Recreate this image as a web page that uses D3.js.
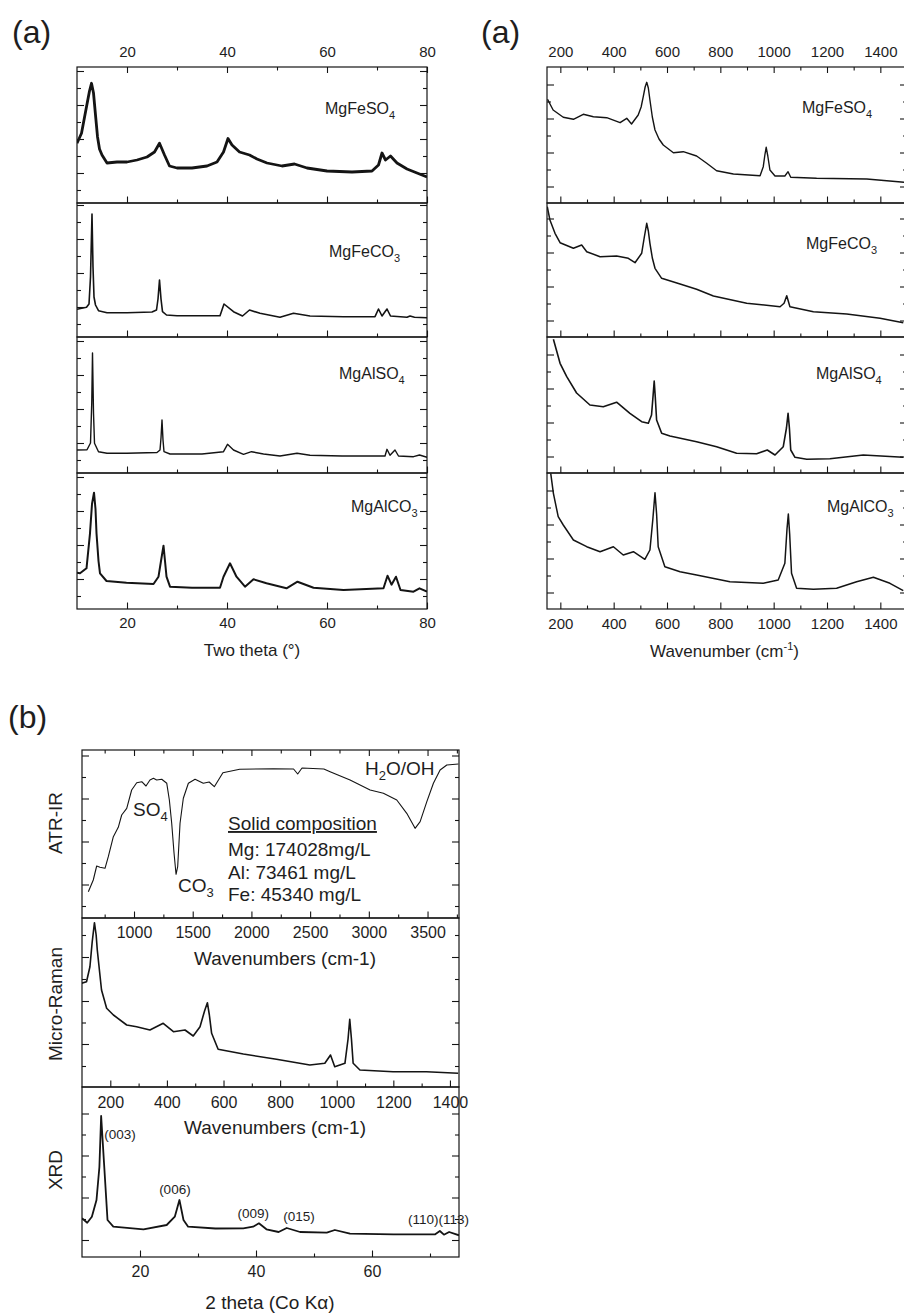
<!DOCTYPE html>
<html>
<head>
<meta charset="utf-8">
<script src="https://cdn.jsdelivr.net/npm/d3@7"></script>
<style>
  body { margin: 0; background: #fff; }
  svg { font-family: "Liberation Sans", Arial, sans-serif; }
  text { fill: #1e1e1e; }
</style>
</head>
<body>
<svg id="fig" width="904" height="1315"></svg>
<script>
'use strict';

// ---- data: [x, intensity (a.u.)] ----
// (a) XRD, two theta
const xrdMgFeSO4 = [[10,597],[10.9,697],[11.9,963],[12.5,1120],[12.9,1197],[13.3,1100],[13.7,880],[14.1,663],[14.5,540],[15,480],[16,400],[18,410],[20,410],[22,430],[24,460],[25.5,510],[26.5,597],[27.5,480],[28.5,370],[30,350],[33,350],[36,370],[38,410],[39.3,510],[40.2,645],[41,580],[42.5,510],[44.5,480],[46,440],[48,400],[51,370],[53.5,390],[56,350],[60,320],[65,310],[69,320],[70.3,380],[71,500],[71.7,430],[72.7,470],[74,400],[76,340],[78,300],[80,260]];
const xrdMgFeCO3 = [[10,277],[11.9,297],[12.4,330],[12.7,600],[13.0,1230],[13.2,700],[13.4,400],[13.7,320],[14.3,263],[16,243],[20,243],[25,250],[25.9,270],[26.2,380],[26.5,570],[26.8,380],[27.1,253],[27.9,220],[30,213],[35,213],[38.6,213],[39.4,330],[41.3,253],[43.1,210],[44.5,270],[46.6,237],[50.6,197],[53.3,237],[56.6,210],[63.3,203],[69.6,203],[70.3,280],[71,210],[72,280],[72.7,210],[76,197],[76.6,210],[77.5,197],[80,193]];
const xrdMgAlSO4 = [[10,230],[12,232],[12.7,300],[12.95,700],[13.1,1200],[13.3,600],[13.5,297],[14.3,213],[16,197],[20,197],[26,205],[26.6,230],[26.8,350],[27.0,530],[27.2,330],[27.4,213],[28.6,190],[35,190],[39.3,213],[40.1,287],[41.3,230],[43.3,187],[44.9,213],[47.3,190],[50.6,170],[54,197],[56.6,177],[63,170],[71.6,170],[72,237],[72.6,177],[73.6,230],[74.3,170],[77.3,163],[78.5,180],[80,157]];
const xrdMgAlCO3 = [[10,363],[10.6,357],[11.9,407],[12.6,757],[13.0,1050],[13.4,1163],[13.7,1000],[13.9,757],[14.3,480],[14.6,357],[15.9,280],[19.9,263],[25.3,250],[26.3,323],[26.8,480],[27.3,633],[27.6,480],[27.9,323],[28.6,223],[33,213],[38.6,213],[39.3,323],[40.6,457],[41.9,323],[43.6,223],[45.3,297],[47.9,257],[51.9,207],[54.1,273],[57.3,213],[63.3,190],[71.3,207],[72.1,333],[72.9,243],[73.8,323],[74.7,190],[77.3,173],[78.5,207],[80,173]];

// (a) Raman, wavenumber cm-1
const ramanMgFeSO4 = [[152,1037],[173,930],[211,857],[249,837],[286,887],[324,863],[374,853],[424,803],[449,847],[467,790],[492,880],[503,960],[511,1063],[518,1160],[524,1207],[530,1150],[536,1030],[545,860],[555,730],[570,640],[586,580],[624,503],[661,513],[711,470],[749,397],[786,323],[849,290],[949,273],[961,363],[967,480],[972,557],[978,470],[986,330],[1005,270],[1042,270],[1054,313],[1064,257],[1161,247],[1349,240],[1489,207]];
const ramanMgFeCO3 = [[151,1303],[161,1170],[180,1037],[199,943],[249,887],[280,920],[299,853],[349,803],[411,810],[455,787],[480,743],[505,837],[515,1000],[524,1137],[530,1060],[536,937],[545,790],[555,687],[580,587],[649,530],[711,477],[774,410],[899,337],[1024,303],[1039,337],[1049,413],[1061,303],[1149,253],[1274,230],[1399,187],[1486,143]];
const ramanMgAlSO4 = [[174,1337],[199,1097],[224,963],[261,800],[311,680],[361,663],[411,708],[461,597],[505,513],[530,497],[542,580],[548,780],[552,920],[556,760],[561,530],[580,397],[611,370],[711,313],[786,263],[861,197],[936,193],[976,230],[1005,180],[1036,263],[1048,450],[1054,597],[1059,450],[1064,230],[1080,157],[1124,137],[1211,143],[1336,180],[1486,157]];
const ramanMgAlCO3 = [[164,1357],[174,1157],[192,923],[211,840],[249,690],[299,623],[349,573],[399,623],[436,540],[474,573],[517,497],[536,590],[547,900],[555,1163],[561,950],[567,623],[592,423],[649,373],[711,340],[836,273],[961,257],[1017,290],[1042,457],[1050,800],[1055,950],[1060,750],[1067,357],[1086,207],[1149,197],[1236,207],[1311,273],[1374,317],[1436,257],[1486,183]];

// (b) ATR-IR, micro-Raman, XRD of the solid
const atrIR = [[611,263],[653,380],[682,520],[710,507],[753,497],[781,613],[824,813],[866,907],[895,1030],[938,1097],[980,1280],[1023,1353],[1066,1363],[1102,1320],[1136,1380],[1165,1397],[1193,1380],[1236,1387],[1279,1347],[1301,1180],[1321,947],[1341,647],[1358,437],[1372,513],[1392,947],[1420,1197],[1463,1347],[1520,1387],[1590,1347],[1640,1360],[1684,1313],[1757,1453],[1900,1487],[2187,1493],[2359,1490],[2394,1440],[2431,1500],[2617,1490],[2670,1463],[2840,1380],[3011,1280],[3124,1247],[3238,1180],[3323,1047],[3394,897],[3437,963],[3494,1163],[3550,1347],[3607,1480],[3664,1530],[3763,1540]];
const ramanSolid = [[99,1037],[116,1053],[128,1203],[136,1450],[144,1643],[150,1520],[154,1370],[169,970],[187,787],[211,720],[258,620],[293,603],[340,570],[387,637],[423,553],[464,570],[493,510],[517,603],[533,760],[543,843],[550,720],[558,537],[581,377],[670,330],[787,277],[905,220],[958,237],[978,320],[993,203],[1029,237],[1040,480],[1046,677],[1052,480],[1058,237],[1082,170],[1199,153],[1317,153],[1429,137]];
const xrdSolid = [[10,387],[10.9,343],[11.7,403],[12.5,570],[13.0,900],[13.3,1410],[13.8,937],[14.4,370],[15.4,303],[20.6,277],[24.6,320],[26,403],[26.8,570],[27.5,370],[28.3,303],[33,285],[37.8,287],[39.5,303],[40.5,337],[41.8,277],[43.9,250],[45.3,290],[47.6,250],[52.2,243],[53.6,270],[56.2,233],[63.7,227],[70.9,227],[71.7,260],[72.4,223],[73.3,250],[75,217]];

// tick values
const xrdMajor = [20, 40, 60, 80];
const xrdMinor = [30, 50, 70];
const ramanMajor = [200, 400, 600, 800, 1000, 1200, 1400];
const ramanMinor = [300, 500, 700, 900, 1100, 1300, 1500];
const atrMajor = [1000, 1500, 2000, 2500, 3000, 3500];
const atrMinor = [750, 1250, 1750, 2250, 2750, 3250, 3750];
const xrdSolidMajor = [20, 40, 60];
const xrdSolidMinor = [30, 50, 70];
const yTicksLeft = [130, 300, 470, 640, 810, 980, 1150, 1320];
const yTicksRight = [165, 335, 505, 675, 845, 1015, 1185];
const yTicksAtr = [120, 335, 550, 765, 980, 1195, 1410, 1625];
const yTicksRaman = [210, 430, 645, 860, 1080, 1300, 1520];
const yTicksXrd = [170, 380, 595, 805, 1015, 1225, 1435];

// sample names
const samples = ['MgFeSO', 'MgFeCO', 'MgAlSO', 'MgAlCO'];
const sampleSubs = ['4', '3', '4', '3'];
const composition = ['Mg: 174028mg/L', 'Al: 73461 mg/L', 'Fe: 45340 mg/L'];
const hklLabels = ['(003)', '(006)', '(009)', '(015)', '(110)(113)'];
const hklPos = [[13.85, 1180], [23.3, 630], [36.8, 387], [44.7, 363], [66.2, 330]];

(function () {
    const svg = d3.select('#fig');
    const ink = '#141414';
    let clipId = 0;

    function tickAxis(g, scale, pos, orient, values, len, label) {
        const mk = { top: d3.axisTop, bottom: d3.axisBottom, left: d3.axisLeft, right: d3.axisRight }[orient];
        const ax = mk(scale).tickValues(values).tickSizeInner(-len).tickSizeOuter(0);
        if (label) ax.tickPadding(label.pad).tickFormat(d3.format('d'));
        else ax.tickFormat('');
        const horiz = orient === 'top' || orient === 'bottom';
        const a = g.append('g')
            .attr('transform', horiz ? `translate(0,${pos})` : `translate(${pos},0)`)
            .call(ax);
        a.select('.domain').remove();
        a.selectAll('line').attr('stroke', ink).attr('stroke-width', 1.1);
        a.selectAll('text').attr('font-size', label ? label.size : 0)
            .attr('font-family', '"Liberation Sans", Arial, sans-serif').attr('fill', '#1e1e1e');
    }

    // one stacked panel
    function panel(o) {
        const x = d3.scaleLinear().domain(o.xDomain).range([o.x0, o.x1]);
        const y = d3.scaleLinear().domain([0, (o.y1 - o.y0) * 10]).range([o.y1, o.y0]);
        const g = svg.append('g');
        const id = 'clip' + (clipId++);
        g.append('clipPath').attr('id', id).append('rect')
            .attr('x', o.x0).attr('y', o.y0).attr('width', o.x1 - o.x0).attr('height', o.y1 - o.y0);
        g.append('path').datum(o.data)
            .attr('clip-path', `url(#${id})`)
            .attr('fill', 'none').attr('stroke', ink)
            .attr('stroke-width', o.sw).attr('stroke-linejoin', 'round')
            .attr('d', d3.line().x(d => x(d[0])).y(d => y(d[1])));
        g.append('rect').attr('x', o.x0).attr('y', o.y0)
            .attr('width', o.x1 - o.x0).attr('height', o.y1 - o.y0)
            .attr('fill', 'none').attr('stroke', ink).attr('stroke-width', 1.2);
        // y ticks both sides, alternating long / short
        const yMaj = o.yTicks.filter((d, i) => i % 2 === o.yMajorOdd);
        const yMin = o.yTicks.filter((d, i) => i % 2 !== o.yMajorOdd);
        tickAxis(g, y, o.x0, 'right', yMaj, -7, null);
        tickAxis(g, y, o.x0, 'right', yMin, -4, null);
        tickAxis(g, y, o.x1, 'left', yMaj, -7, null);
        tickAxis(g, y, o.x1, 'left', yMin, -4, null);
        // x ticks
        if (o.topTicks) {
            tickAxis(g, x, o.y0, 'top', o.xMinor, 3.5, null);
            tickAxis(g, x, o.y0, 'top', o.xMajor, 6, o.topLabel || null);
        }
        tickAxis(g, x, o.y1, 'bottom', o.xMinor, 3.5, null);
        tickAxis(g, x, o.y1, 'bottom', o.xMajor, 6.5, o.bottomLabel || null);
        return { g: g, x: x, y: y };
    }

    function subText(x, y, parts, size, subSize) {
        const t = svg.append('text').attr('x', x).attr('y', y).attr('font-size', size);
        parts.forEach(p => {
            if (p.sub) t.append('tspan').attr('font-size', subSize).attr('dy', 5).text(p.t);
            else if (p.up) t.append('tspan').attr('font-size', subSize).attr('dy', p.dy).text(p.t);
            else t.append('tspan').attr('dy', p.dy || 0).text(p.t);
        });
        return t;
    }

    // ---------------- (a) ----------------
    const tops = [67, 203, 337, 473];
    const bots = [203, 337, 473, 609];
    const xrdSets = [xrdMgFeSO4, xrdMgFeCO3, xrdMgAlSO4, xrdMgAlCO3];
    const ramanSets = [ramanMgFeSO4, ramanMgFeCO3, ramanMgAlSO4, ramanMgAlCO3];
    const leftSw = [2.8, 1.6, 1.4, 2.0];
    const rightSw = [1.4, 1.5, 1.6, 1.5];
    const leftLab = [[325, 114], [329, 257], [339, 379], [351, 512]];
    const rightLab = [[802, 113], [806, 249], [816, 379], [827, 512]];

    tops.forEach((t, i) => {
        panel({
            x0: 77, x1: 427, y0: t, y1: bots[i], xDomain: [10, 80], data: xrdSets[i], sw: leftSw[i],
            yTicks: yTicksLeft, yMajorOdd: 1, xMajor: xrdMajor, xMinor: xrdMinor,
            topTicks: i === 0, topLabel: { pad: 10, size: 15 },
            bottomLabel: i === 3 ? { pad: 8.5, size: 15 } : null
        });
        panel({
            x0: 547, x1: 907, y0: t, y1: bots[i], xDomain: [150, 1500], data: ramanSets[i], sw: rightSw[i],
            yTicks: yTicksRight, yMajorOdd: 0, xMajor: ramanMajor, xMinor: ramanMinor,
            topTicks: i === 0, topLabel: { pad: 10, size: 15 },
            bottomLabel: i === 3 ? { pad: 9, size: 15 } : null
        });
        subText(leftLab[i][0], leftLab[i][1], [{ t: samples[i] }, { t: sampleSubs[i], sub: true }], 16, 11);
        subText(rightLab[i][0], rightLab[i][1], [{ t: samples[i] }, { t: sampleSubs[i], sub: true }], 16, 11);
    });

    svg.append('text').attr('x', 12).attr('y', 43).attr('font-size', 32).text('(a)');
    svg.append('text').attr('x', 481).attr('y', 43).attr('font-size', 32).text('(a)');
    svg.append('text').attr('x', 252).attr('y', 656).attr('font-size', 17)
        .attr('text-anchor', 'middle').text('Two theta (°)');
    subText(650, 657, [{ t: 'Wavenumber (cm' }, { t: '-1', up: true, dy: -7 }, { t: ')', dy: 7 }], 17, 11);

    // ---------------- (b) ----------------
    svg.append('text').attr('x', 8).attr('y', 728).attr('font-size', 32).text('(b)');

    panel({
        x0: 82, x1: 459, y0: 750, y1: 918, xDomain: [557, 3768], data: atrIR, sw: 1.1,
        yTicks: yTicksAtr, yMajorOdd: 1, xMajor: atrMajor, xMinor: atrMinor,
        topTicks: true, topLabel: null, bottomLabel: { pad: 9, size: 16 }
    });
    panel({
        x0: 82, x1: 459, y0: 918, y1: 1087, xDomain: [100, 1432], data: ramanSolid, sw: 1.6,
        yTicks: yTicksRaman, yMajorOdd: 1, xMajor: ramanMajor, xMinor: ramanMinor.slice(0, 6),
        topTicks: false, bottomLabel: { pad: 10, size: 16 }
    });
    const xrd = panel({
        x0: 82, x1: 459, y0: 1087, y1: 1257, xDomain: [10, 75], data: xrdSolid, sw: 1.8,
        yTicks: yTicksXrd, yMajorOdd: 0, xMajor: xrdSolidMajor, xMinor: xrdSolidMinor,
        topTicks: false, bottomLabel: { pad: 9, size: 16 }
    });

    // axis titles
    svg.append('text').attr('x', 285).attr('y', 965).attr('font-size', 19)
        .attr('text-anchor', 'middle').text('Wavenumbers (cm-1)');
    svg.append('text').attr('x', 275).attr('y', 1134).attr('font-size', 19)
        .attr('text-anchor', 'middle').text('Wavenumbers (cm-1)');
    svg.append('text').attr('x', 270).attr('y', 1309).attr('font-size', 19)
        .attr('text-anchor', 'middle').text('2 theta (Co Kα)');

    [['ATR-IR', 823], ['Micro-Raman', 1004], ['XRD', 1170]].forEach(d => {
        svg.append('text').attr('transform', `translate(62,${d[1]}) rotate(-90)`)
            .attr('font-size', 19).attr('text-anchor', 'middle').text(d[0]);
    });

    // ATR annotations
    subText(133, 816, [{ t: 'SO' }, { t: '4', sub: true }], 19, 13);
    subText(178, 892, [{ t: 'CO' }, { t: '3', sub: true }], 19, 13);
    subText(365, 775, [{ t: 'H' }, { t: '2', sub: true }, { t: 'O/OH', dy: -5 }], 19, 13);
    svg.append('text').attr('x', 228).attr('y', 830).attr('font-size', 19)
        .attr('text-decoration', 'underline').text('Solid composition');
    composition.forEach((c, i) => {
        svg.append('text').attr('x', 228).attr('y', 856 + i * 22.5).attr('font-size', 19).text(c);
    });

    // XRD reflections
    hklLabels.forEach((h, i) => {
        svg.append('text').attr('x', xrd.x(hklPos[i][0])).attr('y', xrd.y(hklPos[i][1]))
            .attr('font-size', 13.5).text(h);
    });
})();
</script>
</body>
</html>
